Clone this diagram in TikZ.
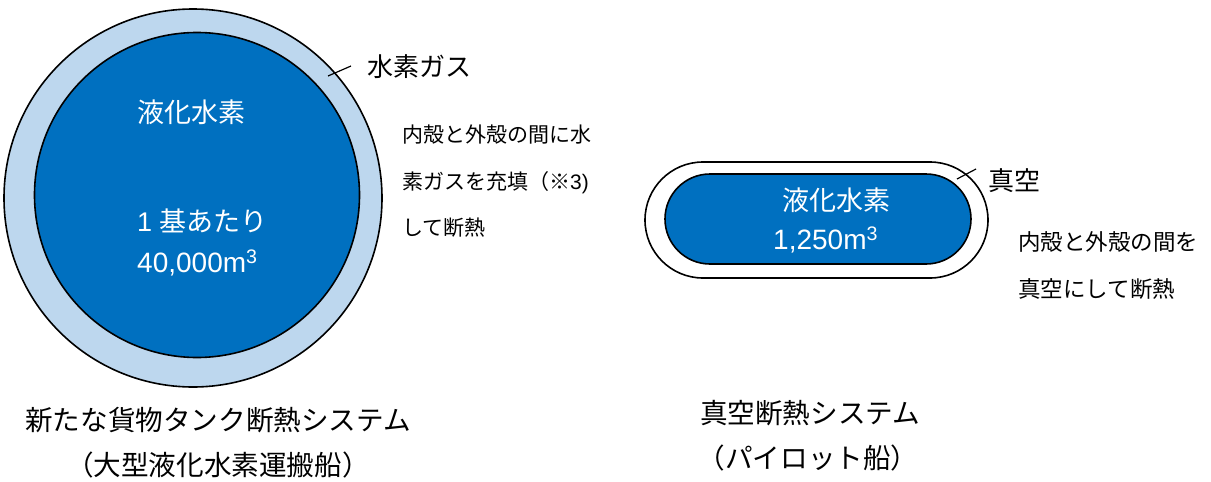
\documentclass[tikz,border=0pt]{standalone}
\usepackage{fontspec}
\setmainfont{Liberation Sans}
\newfontfamily\jp{Noto Sans CJK JP}
\definecolor{tankblue}{HTML}{0070C0}
\definecolor{gasblue}{HTML}{BDD7EE}
\begin{document}
\begin{tikzpicture}[x=1pt,y=-1pt,
  shell/.style={draw=black,line width=1.6pt},
  lbl/.style={inner sep=0pt,anchor=west,font=\fontsize{26}{30}\selectfont},
  small/.style={inner sep=0pt,anchor=west,font=\fontsize{21}{25}\selectfont},
  smallb/.style={inner sep=0pt,anchor=west,font=\fontsize{22.5}{27}\selectfont},
  intxt/.style={inner sep=0pt,anchor=west,text=white,font=\fontsize{27}{32}\selectfont},
  numtxt/.style={inner sep=0pt,anchor=west,text=white,font=\fontsize{28}{32}\selectfont},
  title/.style={inner sep=0pt,font=\fontsize{27.6}{32}\selectfont},
  leader/.style={draw=black,line width=1.2pt}]
\useasboundingbox (0,0) rectangle (1211,482);
% large tank
\node[shell,circle,fill=gasblue,minimum size=378pt,inner sep=0pt] (outer) at (193,198) {};
\node[shell,circle,fill=tankblue,minimum size=325pt,inner sep=0pt] (inner) at (197,195) {};
\node[intxt] (lh1) at (137,112) {\jp 液化水素};
\node[intxt] (cap1) at (137,221) {1 {\jp 基あたり}};
\node[numtxt] (vol1) at (137,263) {40,000m\textsuperscript{3}};
% gas label
\coordinate (g1) at (328,76);
\node[lbl] (gas) at (367,67) {\jp 水素ガス};
\draw[leader] (g1) -- (351,66);
\node[small] (d1) at (402,135) {\jp 内殻と外殻の間に水};
\node[small] (d2) at (402,183) {{\jp 素ガスを充填（※}3)};
\node[small] (d3) at (402,228) {\jp して断熱};
% pilot tank
\node[shell,rectangle,rounded corners=58pt,minimum width=343pt,minimum height=116pt,inner sep=0pt] (pout) at (816.5,220) {};
\node[shell,rectangle,rounded corners=45pt,fill=tankblue,minimum width=306pt,minimum height=90pt,inner sep=0pt] (pin) at (818,219) {};
\node[intxt] (lh2) at (782,200) {\jp 液化水素};
\node[numtxt] (vol2) at (773,240) {1,250m\textsuperscript{3}};
\coordinate (v1) at (957,179);
\node[lbl] (vac) at (988,181) {\jp 真空};
\draw[leader] (v1) -- (976,169);
\node[smallb] (e1) at (1018,242) {\jp 内殻と外殻の間を};
\node[smallb] (e2) at (1018,289) {\jp 真空にして断熱};
% titles
\node[title] (t1) at (218,420) {\jp 新たな貨物タンク断熱システム};
\node[title] (t2) at (218,465) {\jp （大型液化水素運搬船）};
\node[title] (t3) at (810,413) {\jp 真空断熱システム};
\node[title] (t4) at (808,458) {\jp （パイロット船）};
\end{tikzpicture}
\end{document}
